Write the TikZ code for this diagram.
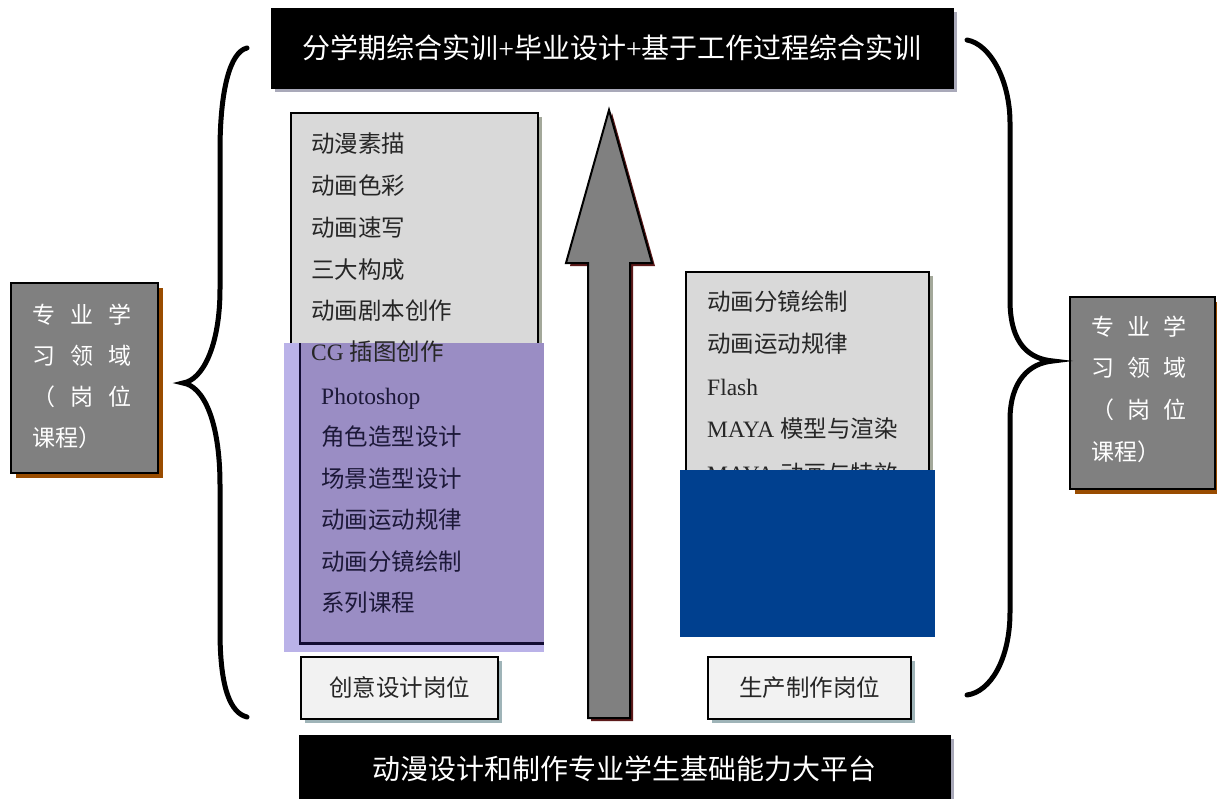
\documentclass[tikz,border=0pt]{standalone}
\usepackage{fontspec}
\setmainfont{Liberation Serif}
\newfontfamily\cjk{Noto Sans CJK SC}
\usetikzlibrary{shadows}
\newcommand{\zh}[1]{{\cjk #1}}
\definecolor{panelgray}{HTML}{D9D9D9}
\definecolor{panelshadow}{HTML}{A3A89A}
\definecolor{topshadow}{HTML}{A9A9B9}
\definecolor{lavA}{HTML}{BAB2E8}
\definecolor{purB}{HTML}{9A8DC4}
\definecolor{navyline}{HTML}{120C33}
\definecolor{blueblock}{HTML}{00408F}
\definecolor{arrowgray}{HTML}{808080}
\definecolor{arrowshadow}{HTML}{5E1B1B}
\definecolor{sidegray}{HTML}{808080}
\definecolor{sideshadow}{HTML}{994C00}
\definecolor{smallfill}{HTML}{F2F2F2}
\definecolor{smallshadow}{HTML}{9FB4B8}
\definecolor{textdark}{HTML}{262626}
\definecolor{purtext}{HTML}{1C1838}
\begin{document}
\begin{tikzpicture}[x=1pt,y=-1pt,
  blackbox/.style={inner sep=0, text height=24.6pt, text depth=3.4pt, fill=black, draw=black, text=white, anchor=north west,
    font=\fontsize{28}{30}\selectfont,
    drop shadow={shadow xshift=4pt, shadow yshift=-4pt, fill=topshadow, opacity=1}},
  graypanel/.style={inner sep=0, fill=panelgray, draw=black, line width=2pt, anchor=north west,
    drop shadow={shadow xshift=4pt, shadow yshift=-4pt, fill=panelshadow, opacity=1}},
  listtext/.style={inner sep=0, text height=20.7pt, text depth=2.8pt, anchor=west, text=textdark, font=\fontsize{23.5}{24}\selectfont},
  purlisttext/.style={listtext, text=purtext},
  smallbox/.style={inner sep=0, text height=20.7pt, text depth=2.8pt, fill=smallfill, draw=black, line width=2pt, anchor=north west,
    text=textdark, font=\fontsize{23.5}{24}\selectfont,
    drop shadow={shadow xshift=4pt, shadow yshift=-4pt, fill=smallshadow, opacity=1}},
  sidebox/.style={inner sep=0, fill=sidegray, draw=black, line width=2pt, anchor=north west,
    drop shadow={shadow xshift=5pt, shadow yshift=-5pt, fill=sideshadow, opacity=1}},
  sidetext/.style={inner sep=0, text height=20.2pt, text depth=2.8pt, anchor=west, text=white, font=\cjk\fontsize{23}{24}\selectfont},
  bracestyle/.style={line width=5pt, line cap=round, draw=black}
]
\useasboundingbox (0,0) rectangle (1217,798);
\fill[white] (0,0) rectangle (1217,798);

% top and bottom bars
\node[blackbox, minimum width=682, minimum height=80] (top) at (271,8)
  {\zh{分学期综合实训}+\zh{毕业设计}+\zh{基于工作过程综合实训}};
\node[blackbox, minimum width=651, minimum height=68] (base) at (299,735)
  {\zh{动漫设计和制作专业学生基础能力大平台}};

% left panel
\node[graypanel, minimum width=247, minimum height=290] (lpanel) at (290,112) {};
\node[listtext] (l1) at (311,144) {\zh{动漫素描}};
\node[listtext] (l2) at (311,186) {\zh{动画色彩}};
\node[listtext] (l3) at (311,228) {\zh{动画速写}};
\node[listtext] (l4) at (311,270) {\zh{三大构成}};
\node[listtext] (l5) at (311,311) {\zh{动画剧本创作}};
\node[inner sep=0, fill=lavA, minimum width=260, minimum height=309, anchor=north west] (lav) at (284,343) {};
\node[inner sep=0, fill=purB, minimum width=244, minimum height=300, anchor=north west] (pur) at (300,343) {};
\draw[navyline, line width=2.5pt] (pur.north west) -- (pur.south west) -- (pur.south east);
\node[listtext] (l6) at (311,352) {CG \zh{插图创作}};
\node[purlisttext] (p1) at (321,396) {Photoshop};
\node[purlisttext] (p2) at (321,437) {\zh{角色造型设计}};
\node[purlisttext] (p3) at (321,479) {\zh{场景造型设计}};
\node[purlisttext] (p4) at (321,520) {\zh{动画运动规律}};
\node[purlisttext] (p5) at (321,562) {\zh{动画分镜绘制}};
\node[purlisttext] (p6) at (321,603) {\zh{系列课程}};

% right panel
\node[graypanel, minimum width=243, minimum height=250] (rpanel) at (685,271) {};
\node[listtext] (r1) at (707,302) {\zh{动画分镜绘制}};
\node[listtext] (r2) at (707,344) {\zh{动画运动规律}};
\node[listtext] (r3) at (707,387) {Flash};
\node[listtext] (r4) at (707,429) {MAYA \zh{模型与渲染}};
\node[listtext] (r5) at (707,474) {MAYA \zh{动画与特效}};
\node[inner sep=0, fill=blueblock, minimum width=255, minimum height=167, anchor=north west] (blue) at (680,470) {};

% central arrow
\fill[arrowshadow] (612,113) -- (655,266) -- (633,266) -- (633,721) -- (591,721) -- (591,266) -- (570,266) -- cycle;
\draw[fill=arrowgray, line width=2pt, line join=miter] (609,110) -- (652,263) -- (630,263) -- (630,718) -- (588,718) -- (588,263) -- (566,263) -- cycle;

% position boxes
\node[smallbox, minimum width=197, minimum height=62] (cy) at (300,656) {\zh{创意设计岗位}};
\node[smallbox, minimum width=203, minimum height=62] (sc) at (707,656) {\zh{生产制作岗位}};

% side boxes
\node[sidebox, minimum width=147, minimum height=190] (lside) at (10,282) {};
\node[sidetext] (ls1) at (32,315) {专\hspace{15pt}业\hspace{15pt}学};
\node[sidetext] (ls2) at (32,356) {习\hspace{15pt}领\hspace{15pt}域};
\node[sidetext] (ls3) at (32,397) {（\hspace{15pt}岗\hspace{15pt}位};
\node[sidetext] (ls4) at (32,438) {课程）};
\node[sidebox, minimum width=145, minimum height=192] (rside) at (1069,296) {};
\node[sidetext] (rs1) at (1091,327) {专\hspace{13pt}业\hspace{13pt}学};
\node[sidetext] (rs2) at (1091,368) {习\hspace{13pt}领\hspace{13pt}域};
\node[sidetext] (rs3) at (1091,410) {（\hspace{13pt}岗\hspace{13pt}位};
\node[sidetext] (rs4) at (1091,452) {课程）};

% braces
\draw[bracestyle] (247,48) .. controls (230,52) and (220,90) .. (220,151) -- (220,289)
  .. controls (220,345) and (203,380) .. (183,383)
  .. controls (203,386) and (220,420) .. (220,485) -- (220,631)
  .. controls (220,690) and (231,713) .. (247,717);
\draw[bracestyle] (967,40) .. controls (990,44) and (1010,80) .. (1010,123) -- (1010,300)
  .. controls (1010,345) and (1030,359) .. (1053,361)
  .. controls (1030,363) and (1010,380) .. (1010,420) -- (1010,612)
  .. controls (1010,660) and (990,692) .. (967,695);
\end{tikzpicture}
\end{document}
